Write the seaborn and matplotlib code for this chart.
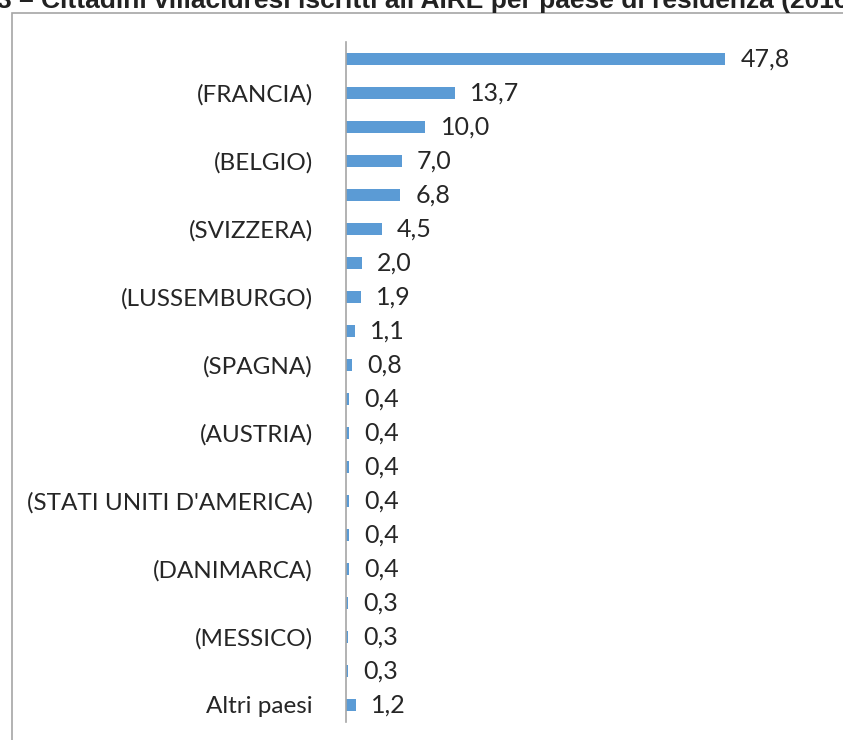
import pandas as pd
import matplotlib.pyplot as plt
import seaborn as sns
from matplotlib.patches import Rectangle

# Values (percent of AIRE residents by country)
row_keys = [f"r{i}" for i in range(20)]
tick_labels = ["", "(FRANCIA)", "", "(BELGIO)", "", "(SVIZZERA)", "", "(LUSSEMBURGO)",
               "", "(SPAGNA)", "", "(AUSTRIA)", "", "(STATI UNITI D'AMERICA)", "",
               "(DANIMARCA)", "", "(MESSICO)", "", "Altri paesi"]
values = [47.8, 13.7, 10.0, 7.0, 6.8, 4.5, 2.0, 1.9, 1.1, 0.8,
          0.4, 0.4, 0.4, 0.4, 0.4, 0.4, 0.3, 0.3, 0.3, 1.2]
title = "3 \u2013 Cittadini villacidresi iscritti all'AIRE per paese di residenza (2016)"

data = pd.DataFrame({"paese": row_keys, "valore": values})

sns.set_theme(style="white")
plt.rcParams['font.family'] = ['Lato', 'DejaVu Sans']

W, H = 843, 740
fig = plt.figure(figsize=(W / 100, H / 100), dpi=100)

# outer chart frame (cut off on the right and bottom, like the screenshot)
fig.patches.append(Rectangle((12 / W, -0.1), 1.2, 1 - 13 / H + 0.1, transform=fig.transFigure,
                             fill=False, edgecolor="#a6a6a6", linewidth=1.2))

# partially visible title at the very top
fig.text(-0.004, 1 - 8 / H, title, fontsize=19, fontweight="bold", color="#222222",
         family=['Liberation Sans', 'DejaVu Sans'], va="baseline", ha="left")

ax = fig.add_axes([346 / W, 18 / H, 476 / W, 680 / H])
sns.barplot(data=data, x="valore", y="paese", orient="h", color="#5B9BD5",
            width=0.36, ax=ax, saturation=1, linewidth=0)

ax.set_xlim(0, 60)
ax.set_ylim(19.5, -0.5)
ax.set_yticks(range(len(tick_labels)))
ax.set_yticklabels(tick_labels, fontsize=17.5, color="#262626")
ax.tick_params(axis="y", length=0, pad=24)
ax.set_xticks([])
ax.set_xlabel("")
ax.set_ylabel("")
for side in ["top", "right", "bottom"]:
    ax.spines[side].set_visible(False)
ax.spines["left"].set_color("#a6a6a6")
ax.spines["left"].set_linewidth(1.2)

for i, v in enumerate(values):
    ax.annotate(f"{v:.1f}".replace(".", ","), (v, i), xytext=(11, 0), textcoords="offset points",
                ha="left", va="center", fontsize=18, color="#262626")

fig.savefig("out.png", dpi=100)
